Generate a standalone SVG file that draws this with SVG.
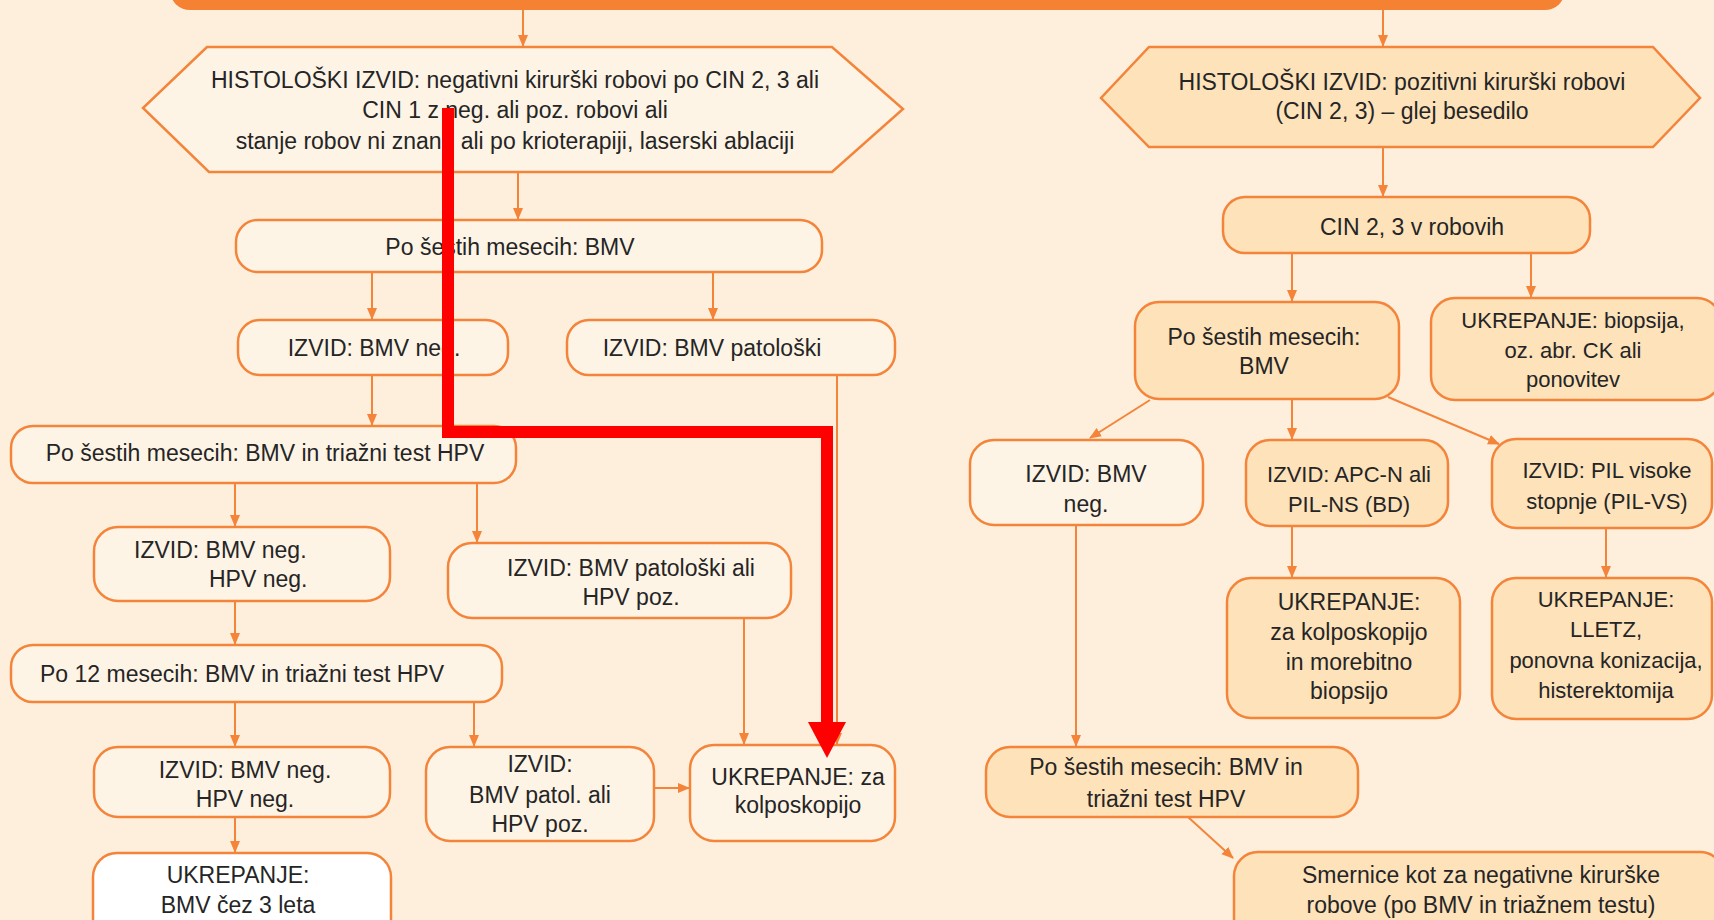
<svg xmlns="http://www.w3.org/2000/svg" width="1714" height="920" viewBox="0 0 1714 920">
<defs>
<marker id="ah" markerUnits="userSpaceOnUse" markerWidth="12" markerHeight="12" viewBox="0 0 12 12" refX="11" refY="6" orient="auto">
<path d="M0,1 L12,6 L0,11 Z" fill="#f4843a"/>
</marker>
<style>
.n{stroke:#f4843a;stroke-width:2.5}
.lt{fill:#fef4e5}
.pc{fill:#fde2ba}
.wh{fill:#ffffff}
.c line,.c path{stroke:#f4843a;stroke-width:2;fill:none}
text{font-family:"Liberation Sans",Arial,sans-serif;font-size:23px;fill:#252525;text-anchor:middle}
.s22{font-size:22px}
</style>
</defs>
<rect x="0" y="0" width="1714" height="920" fill="#fdefdc"/>
<rect x="170" y="-40" width="1395" height="50" rx="20" fill="#f58233"/>

<g class="c">
<line x1="523" y1="10" x2="523" y2="46" marker-end="url(#ah)"/>
<line x1="1383" y1="10" x2="1383" y2="46" marker-end="url(#ah)"/>
<line x1="518" y1="172" x2="518" y2="219" marker-end="url(#ah)"/>
<line x1="372" y1="272" x2="372" y2="319" marker-end="url(#ah)"/>
<line x1="713" y1="272" x2="713" y2="319" marker-end="url(#ah)"/>
<line x1="372" y1="375" x2="372" y2="425" marker-end="url(#ah)"/>
<line x1="235" y1="483" x2="235" y2="526" marker-end="url(#ah)"/>
<line x1="477" y1="483" x2="477" y2="542" marker-end="url(#ah)"/>
<line x1="235" y1="601" x2="235" y2="644" marker-end="url(#ah)"/>
<line x1="744" y1="618" x2="744" y2="744" marker-end="url(#ah)"/>
<line x1="837" y1="375" x2="837" y2="744" marker-end="url(#ah)"/>
<line x1="235" y1="702" x2="235" y2="746" marker-end="url(#ah)"/>
<line x1="474" y1="702" x2="474" y2="746" marker-end="url(#ah)"/>
<line x1="654" y1="788" x2="689" y2="788" marker-end="url(#ah)"/>
<line x1="235" y1="817" x2="235" y2="852" marker-end="url(#ah)"/>
<line x1="1383" y1="147" x2="1383" y2="196" marker-end="url(#ah)"/>
<line x1="1292" y1="253" x2="1292" y2="301" marker-end="url(#ah)"/>
<line x1="1531" y1="253" x2="1531" y2="297" marker-end="url(#ah)"/>
<line x1="1150" y1="400" x2="1090" y2="438" marker-end="url(#ah)"/>
<line x1="1292" y1="399" x2="1292" y2="439" marker-end="url(#ah)"/>
<line x1="1388" y1="397" x2="1499" y2="444" marker-end="url(#ah)"/>
<line x1="1076" y1="525" x2="1076" y2="746" marker-end="url(#ah)"/>
<line x1="1292" y1="526" x2="1292" y2="577" marker-end="url(#ah)"/>
<line x1="1606" y1="528" x2="1606" y2="577" marker-end="url(#ah)"/>
<line x1="1188" y1="817" x2="1233" y2="858" marker-end="url(#ah)"/>
</g>

<g id="hexL">
<polygon class="n lt" points="207,47 832,47 903,109 832,172 209,172 143,108"/>
<text x="515" y="88">HISTOLOŠKI IZVID: negativni kirurški robovi po CIN 2, 3 ali</text>
<text x="515" y="118">CIN 1 z neg. ali poz. robovi ali</text>
<text x="515" y="149">stanje robov ni znano ali po krioterapiji, laserski ablaciji</text>
</g>
<g id="n_bmv6">
<rect class="n lt" x="236" y="220" width="586" height="52" rx="22"/>
<text x="510" y="255">Po šestih mesecih: BMV</text>
</g>
<g id="n_neg1">
<rect class="n lt" x="238" y="320" width="270" height="55" rx="22"/>
<text x="374" y="356">IZVID: BMV neg.</text>
</g>
<g id="n_pat1">
<rect class="n lt" x="567" y="320" width="328" height="55" rx="22"/>
<text x="712" y="356">IZVID: BMV patološki</text>
</g>
<g id="n_bmvhpv6">
<rect class="n lt" x="11" y="426" width="505" height="57" rx="22"/>
<text x="265" y="461">Po šestih mesecih: BMV in triažni test HPV</text>
</g>
<g id="n_neg2">
<rect class="n lt" x="94" y="527" width="296" height="74" rx="24"/>
<text x="134" y="558" style="text-anchor:start">IZVID:  BMV neg.</text>
<text x="209" y="587" style="text-anchor:start">HPV neg.</text>
</g>
<g id="n_pat2">
<rect class="n lt" x="448" y="543" width="343" height="75" rx="24"/>
<text x="631" y="576">IZVID: BMV patološki ali</text>
<text x="631" y="605">HPV poz.</text>
</g>
<g id="n_bmvhpv12">
<rect class="n lt" x="11" y="645" width="491" height="57" rx="22"/>
<text x="242" y="682">Po 12 mesecih: BMV in triažni test HPV</text>
</g>
<g id="n_neg3">
<rect class="n lt" x="94" y="747" width="296" height="70" rx="24"/>
<text x="245" y="778">IZVID: BMV neg.</text>
<text x="245" y="807">HPV neg.</text>
</g>
<g id="n_ukr3">
<rect class="n wh" x="93" y="853" width="298" height="100" rx="24"/>
<text x="238" y="883">UKREPANJE:</text>
<text x="238" y="913">BMV čez 3 leta</text>
</g>
<g id="n_pat3">
<rect class="n lt" x="426" y="747" width="228" height="94" rx="24"/>
<text x="540" y="772">IZVID:</text>
<text x="540" y="803">BMV patol. ali</text>
<text x="540" y="832">HPV poz.</text>
</g>
<g id="n_kolpo">
<rect class="n lt" x="690" y="745" width="205" height="96" rx="24"/>
<text x="798" y="785">UKREPANJE: za</text>
<text x="798" y="813">kolposkopijo</text>
</g>

<g id="hexR">
<polygon class="n pc" points="1149,47 1653,47 1700,98 1653,147 1149,147 1101,98"/>
<text x="1402" y="90">HISTOLOŠKI IZVID: pozitivni kirurški robovi</text>
<text x="1402" y="119">(CIN 2, 3) – glej besedilo</text>
</g>
<g id="n_cin">
<rect class="n pc" x="1223" y="197" width="367" height="56" rx="22"/>
<text x="1412" y="235">CIN 2, 3 v robovih</text>
</g>
<g id="n_bmv6r">
<rect class="n pc" x="1135" y="302" width="264" height="97" rx="24"/>
<text x="1264" y="345">Po šestih mesecih:</text>
<text x="1264" y="374">BMV</text>
</g>
<g id="n_biop">
<rect class="n pc" x="1431" y="298" width="290" height="102" rx="24"/>
<text class="s22" x="1573" y="328">UKREPANJE: biopsija,</text>
<text class="s22" x="1573" y="358">oz. abr. CK ali</text>
<text class="s22" x="1573" y="387">ponovitev</text>
</g>
<g id="n_negr">
<rect class="n lt" x="970" y="440" width="233" height="85" rx="24"/>
<text x="1086" y="482">IZVID: BMV</text>
<text x="1086" y="512">neg.</text>
</g>
<g id="n_apc">
<rect class="n pc" x="1246" y="440" width="202" height="86" rx="24"/>
<text class="s22" x="1349" y="482">IZVID: APC-N ali</text>
<text class="s22" x="1349" y="512">PIL-NS (BD)</text>
</g>
<g id="n_pil">
<rect class="n pc" x="1492" y="439" width="220" height="89" rx="24"/>
<text class="s22" x="1607" y="478">IZVID: PIL visoke</text>
<text class="s22" x="1607" y="509">stopnje (PIL-VS)</text>
</g>
<g id="n_kolpo2">
<rect class="n pc" x="1227" y="578" width="233" height="140" rx="24"/>
<text x="1349" y="610">UKREPANJE:</text>
<text x="1349" y="640">za kolposkopijo</text>
<text x="1349" y="670">in morebitno</text>
<text x="1349" y="699">biopsijo</text>
</g>
<g id="n_lletz">
<rect class="n pc" x="1492" y="578" width="220" height="141" rx="24"/>
<text class="s22" x="1606" y="607">UKREPANJE:</text>
<text class="s22" x="1606" y="637">LLETZ,</text>
<text class="s22" x="1606" y="668">ponovna konizacija,</text>
<text class="s22" x="1606" y="698">histerektomija</text>
</g>
<g id="n_bmvhpv6r">
<rect class="n pc" x="986" y="747" width="372" height="70" rx="24"/>
<text x="1166" y="775">Po šestih mesecih: BMV in</text>
<text x="1166" y="807">triažni test HPV</text>
</g>
<g id="n_smer">
<rect class="n pc" x="1234" y="852" width="490" height="100" rx="24"/>
<text x="1481" y="883">Smernice kot za negativne kirurške</text>
<text x="1481" y="913">robove (po BMV in triažnem testu)</text>
</g>

<g id="red">
<path d="M448,108 V432 H827 V724" fill="none" stroke="#ff0000" stroke-width="12"/>
<polygon points="808,722 846,722 827,758" fill="#ff0000"/>
</g>
</svg>
